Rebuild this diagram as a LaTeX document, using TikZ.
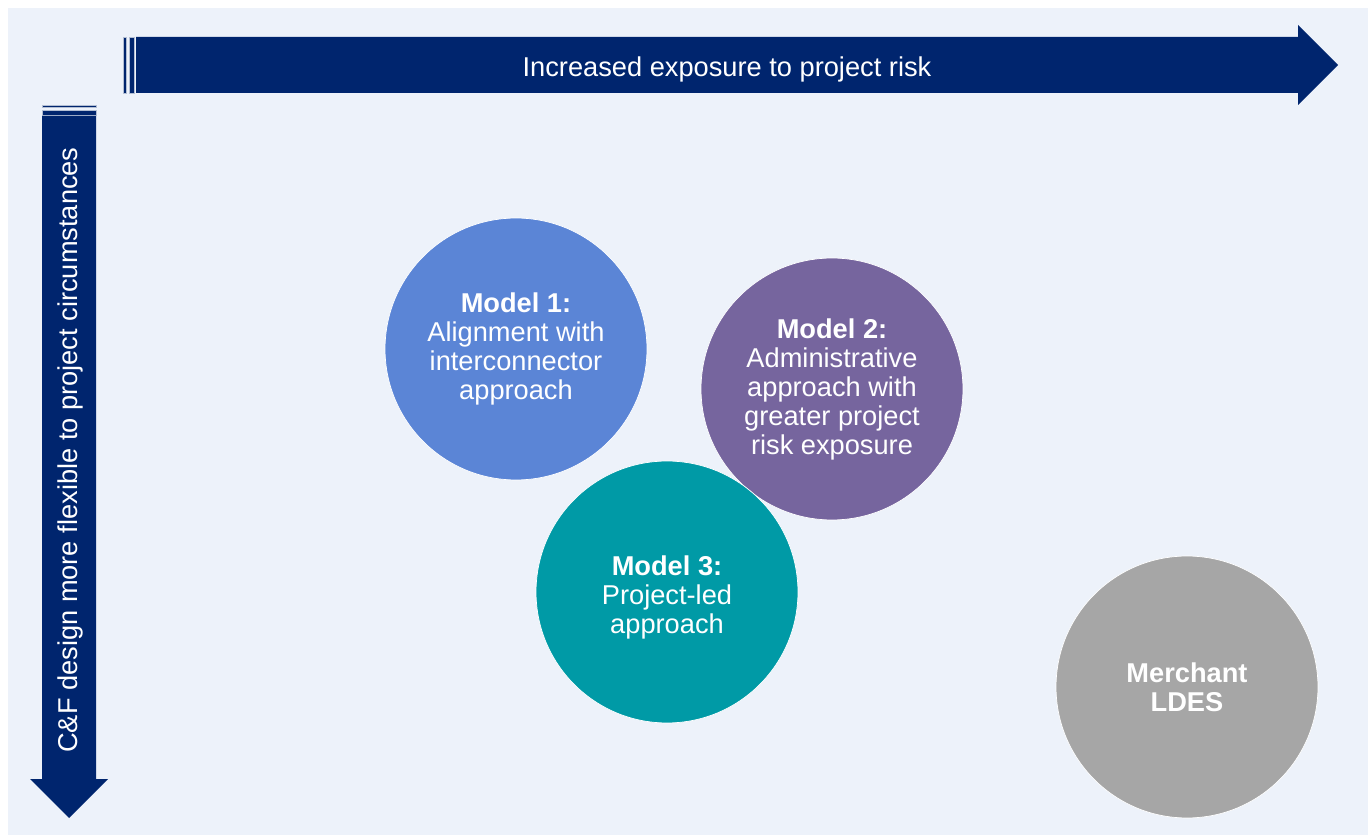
\documentclass[tikz,border=0pt]{standalone}
\usepackage{fontspec}
\setmainfont{Liberation Sans}
\usepackage{xcolor}
\usetikzlibrary{
    arrows.meta,
    shapes,
    positioning,
    calc
}

\definecolor{navy}{HTML}{00256E}
\definecolor{panel}{HTML}{EDF2FA}
\definecolor{modelA}{HTML}{5B85D6}
\definecolor{modelB}{HTML}{76659E}
\definecolor{modelC}{HTML}{009AA6}
\definecolor{merchant}{HTML}{A6A6A6}

\begin{document}
\begin{tikzpicture}[x=0.02cm, y=-0.02cm,
        bubble/.style={circle, minimum size=5.24cm, inner sep=0pt, draw=white, line width=0.4pt,
                       text=white, align=center, font=\fontsize{15.5}{16.5}\selectfont},
        band/.style={fill=navy, draw=white!70!navy, line width=0.3pt},
        caption/.style={text=white, font=\fontsize{15.5}{18}\selectfont}
    ]
                % page and panel
                \useasboundingbox (0,0) rectangle (1370,837);
                \fill[white] (0,0) rectangle (1370,837);
                \fill[panel] (8,8) rectangle (1368,835);

                % horizontal arrow with striped tail
                \draw[band] (123,37) rectangle (126,93);
                \draw[band] (129,37) rectangle (134,93);
                \fill[navy] (136,37) -- (1298,37) -- (1298,25) -- (1338,65)
                    -- (1298,105) -- (1298,93) -- (136,93) -- cycle;
                \node[caption] (risk) at (727,69) {Increased exposure to project risk};

                % vertical arrow with striped tail
                \draw[band] (42,105) rectangle (96,107);
                \draw[band] (42,110) rectangle (96,115);
                \fill[navy] (42,116) -- (96,116) -- (96,779) -- (108,779) -- (69,818)
                    -- (30,779) -- (42,779) -- cycle;
                \node[caption, rotate=90] (flex) at (70,450) {C\&F design more flexible to project circumstances};

                % the models
                \node[bubble, fill=modelA] (m1) at (516,349)
                    {\textbf{Model 1:}\\Alignment with\\interconnector\\approach};
                \node[bubble, fill=modelB] (m2) at (832,389)
                    {\textbf{Model 2:}\\Administrative\\approach with\\greater project\\risk exposure};
                \node[bubble, fill=modelC] (m3) at (667,592)
                    {\rule{0pt}{17pt}\textbf{Model 3:}\\Project-led\\approach};
                \node[bubble, fill=merchant] (ldes) at (1187,687)
                    {\textbf{Merchant}\\\textbf{LDES}};
            \end{tikzpicture}
\end{document}
